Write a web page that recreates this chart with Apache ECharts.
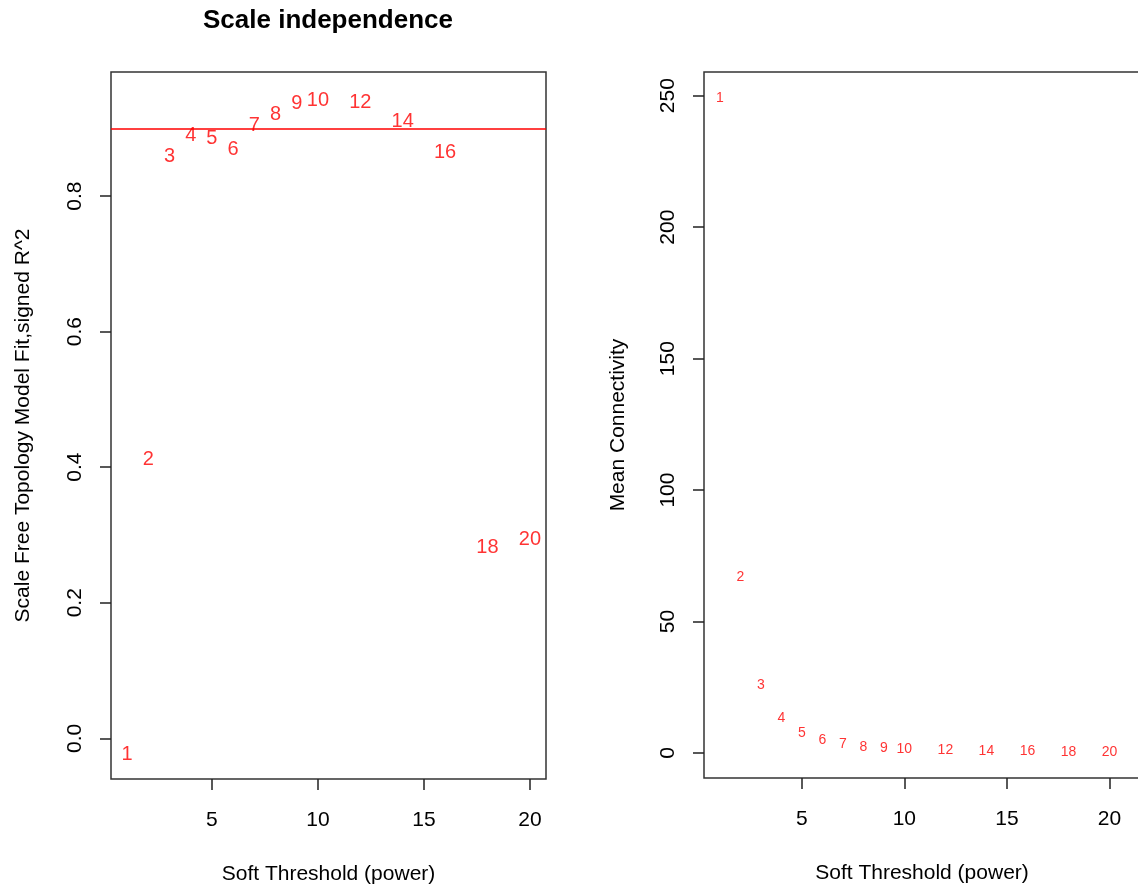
<!DOCTYPE html>
<html>
<head>
<meta charset="utf-8">
<script src="https://cdn.jsdelivr.net/npm/echarts@6/dist/echarts.min.js"></script>
<style>
html,body{margin:0;padding:0;background:#fff;}
#chart{width:1138px;height:884px;}
</style>
</head>
<body>
<div id="chart"></div>
<script>
// ---- data ----
var powers = [1, 2, 3, 4, 5, 6, 7, 8, 9, 10, 12, 14, 16, 18, 20];
var sftR2 = [-0.024, 0.412, 0.858, 0.889, 0.885, 0.868, 0.904, 0.921, 0.937, 0.941, 0.938, 0.910, 0.864, 0.281, 0.293];
var meanK = [249, 67, 26, 13.1, 7.4, 4.8, 3.4, 2.3, 1.8, 1.6, 1.1, 0.8, 0.65, 0.5, 0.45];
var cutLine = 0.9;
var xTicks = [5, 10, 15, 20];
var leftYTicks = [0, 0.2, 0.4, 0.6, 0.8];
var rightYTicks = [0, 50, 100, 150, 200, 250];

var FONT = "'Liberation Sans', Arial, sans-serif";
var chart = echarts.init(document.getElementById('chart'), null, {renderer: 'canvas'});

function pts(ys) {
  return powers.map(function (p, i) { return [p, ys[i]]; });
}

function xAxisCfg(gridIndex, min, max) {
  return {
    type: 'value', gridIndex: gridIndex, min: min, max: max, position: 'bottom',
    name: 'Soft Threshold (power)', nameLocation: 'middle', nameGap: 85,
    nameTextStyle: {fontFamily: FONT, fontSize: 21, color: '#000'},
    axisLine: {show: false, onZero: false},
    axisTick: {show: true, inside: false, length: 11, customValues: xTicks, lineStyle: {color: '#222', width: 1.5}},
    axisLabel: {show: true, customValues: xTicks, margin: 31, fontFamily: FONT, fontSize: 21, color: '#000'},
    splitLine: {show: false}
  };
}

function yAxisCfg(gridIndex, min, max, ticks, name, gap, fmt) {
  return {
    type: 'value', gridIndex: gridIndex, min: min, max: max, position: 'left',
    name: name, nameLocation: 'middle', nameGap: gap, nameRotate: 90,
    nameTextStyle: {fontFamily: FONT, fontSize: 21, color: '#000'},
    axisLine: {show: false, onZero: false},
    axisTick: {show: true, inside: false, length: 11, customValues: ticks, lineStyle: {color: '#222', width: 1.5}},
    axisLabel: {show: true, customValues: ticks, rotate: 90, margin: 25, fontFamily: FONT, fontSize: 21, color: '#000', formatter: fmt},
    splitLine: {show: false}
  };
}

var option = {
  animation: false,
  backgroundColor: '#fff',
  title: {
    text: 'Scale independence', left: 198, top: 3,
    textStyle: {fontFamily: FONT, fontSize: 26, fontWeight: 'bold', color: '#000'}
  },
  grid: [
    {left: 111, top: 72, width: 435, height: 707, show: true, borderColor: '#333', borderWidth: 1.5, backgroundColor: 'transparent', containLabel: false, outerBoundsMode: 'none'},
    {left: 704, top: 72, width: 436, height: 706, show: true, borderColor: '#333', borderWidth: 1.5, backgroundColor: 'transparent', containLabel: false, outerBoundsMode: 'none'}
  ],
  xAxis: [
    xAxisCfg(0, 0.24, 20.76),
    xAxisCfg(1, 0.23, 21.49)
  ],
  yAxis: [
    yAxisCfg(0, -0.060, 0.983, leftYTicks, 'Scale Free Topology Model Fit,signed R^2', 77, function (v) { return v.toFixed(1); }),
    yAxisCfg(1, -9.5, 259, rightYTicks, 'Mean Connectivity', 75, function (v) { return String(v); })
  ],
  series: [
    {
      type: 'scatter', xAxisIndex: 0, yAxisIndex: 0,
      data: pts(sftR2), symbolSize: 1,
      itemStyle: {color: 'rgba(0,0,0,0)'},
      label: {show: true, position: 'inside', fontFamily: FONT, fontSize: 20, color: '#ff0000',
        formatter: function (p) { return String(p.value[0]); }},
      markLine: {
        silent: true, symbol: ['none', 'none'], label: {show: false},
        lineStyle: {color: '#ff0000', width: 1.5, type: 'solid'},
        data: [{yAxis: cutLine}]
      }
    },
    {
      type: 'scatter', xAxisIndex: 1, yAxisIndex: 1,
      data: pts(meanK), symbolSize: 1,
      itemStyle: {color: 'rgba(0,0,0,0)'},
      label: {show: true, position: 'inside', fontFamily: FONT, fontSize: 14, color: '#ff0000',
        formatter: function (p) { return String(p.value[0]); }}
    }
  ]
};
chart.setOption(option);
</script>
</body>
</html>
